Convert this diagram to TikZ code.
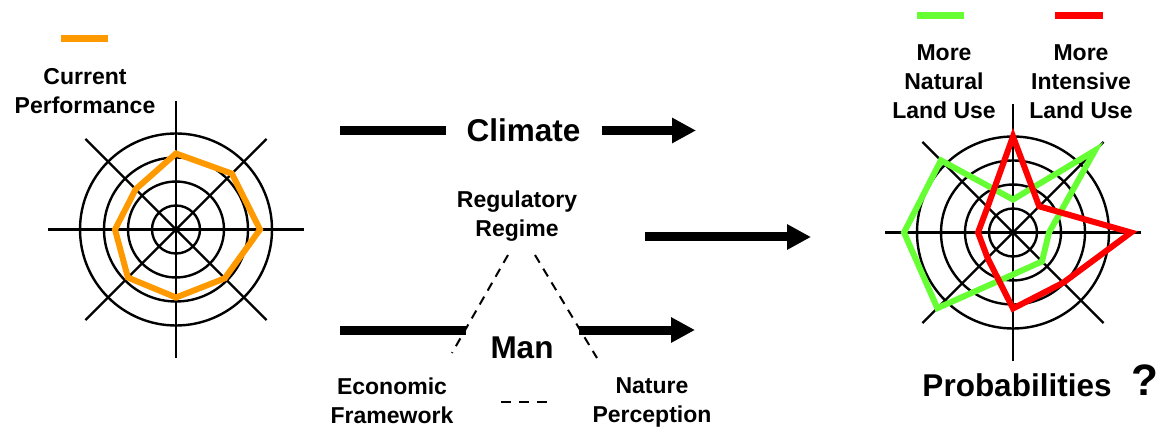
\documentclass[tikz,border=0pt]{standalone}
\usepackage{fontspec}
\setmainfont{Liberation Sans}
\usetikzlibrary{arrows.meta}

\definecolor{perfOrange}{RGB}{255,153,0}
\definecolor{natGreen}{RGB}{102,255,51}
\definecolor{intRed}{RGB}{255,0,0}

% spider web: four rings and eight spokes
\newcommand{\spiderweb}{%
  \foreach \rr in {24,48,72,96} \draw[webline] (0,0) circle (\rr pt);
  \foreach \aa in {0,45,...,315} \draw[webline] (0,0) -- (\aa:128pt);
}

\begin{document}
\begin{tikzpicture}[x=1pt, y=-1pt,
    webline/.style={line width=2.4pt},
    profile/.style={line width=6pt},
    keybar/.style={line width=7pt},
    thickbar/.style={line width=9pt},
    thickarrow/.style={thickbar, -{Triangle[length=24pt,width=24pt]}},
    linkdash/.style={line width=2pt, dash pattern=on 9pt off 7pt},
    smalltext/.style={font=\fontsize{23}{29}\selectfont\bfseries, align=center, inner sep=0pt},
    bigtext/.style={font=\fontsize{31.5}{36}\selectfont\bfseries, inner sep=0pt},
  ]
  \useasboundingbox (0,0) rectangle (1161,430);

  % Current performance (left web)
  \draw[keybar, perfOrange] (61,38.5) -- (108,38.5);
  \node[smalltext] (perf) at (85,91.5) {Current\\Performance};
  \begin{scope}[shift={(176,229.5)}]
    \spiderweb
    \draw[profile, perfOrange] (90:76pt) -- (45:79pt) -- (0:84pt) -- (-45:69pt)
      -- (-90:68pt) -- (-135:68pt) -- (180:61pt) -- (135:57pt) -- cycle;
  \end{scope}

  % Climate
  \node[bigtext, anchor=base] (climate) at (523.5,142) {Climate};
  \coordinate (climA) at (340,130.5);
  \coordinate (climB) at (446,130.5);
  \coordinate (climC) at (602,130.5);
  \coordinate (climD) at (696,130.5);
  \draw[thickbar] (climA) -- (climB);
  \draw[thickarrow] (climC) -- (climD);

  % Regulatory regime and its two feet
  \node[smalltext] (regime) at (517,216) {Regulatory\\Regime};
  \node[smalltext] (econ) at (392,401) {Economic\\Framework};
  \node[smalltext] (nature) at (652,402.5) {Nature\\Perception};
  \coordinate (regL) at (508,255);
  \coordinate (regR) at (535,255);
  \coordinate (econTop) at (452,353);
  \coordinate (natTop) at (597,358);
  \coordinate (baseL) at (501,402);
  \coordinate (baseR) at (548,402);
  \draw[linkdash] (regL) -- (econTop);
  \draw[linkdash] (regR) -- (natTop);
  \draw[linkdash, dash pattern=on 10pt off 8pt] (baseL) -- (baseR);

  % Man
  \node[bigtext, anchor=base] (man) at (522,358) {Man};
  \coordinate (manA) at (340,330);
  \coordinate (manB) at (466,330);
  \coordinate (manC) at (579,330);
  \coordinate (manD) at (695,330);
  \draw[thickbar] (manA) -- (manB);
  \draw[thickarrow] (manC) -- (manD);

  % towards the outcome
  \coordinate (outA) at (645,237);
  \coordinate (outB) at (811,237);
  \draw[thickarrow] (outA) -- (outB);

  % Probabilities (right web)
  \draw[keybar, natGreen] (917,15.5) -- (964,15.5);
  \draw[keybar, intRed] (1055,15.5) -- (1103,15.5);
  \node[smalltext] (natural) at (944,82) {More\\Natural\\Land Use};
  \node[smalltext] (intensive) at (1081,82) {More\\Intensive\\Land Use};
  \begin{scope}[shift={(1013,232.5)}]
    \spiderweb
    \draw[profile, natGreen] (90:33pt) -- (45:116pt) -- (0:36pt) -- (-45:41pt)
      -- (-90:42pt) -- (-135:107pt) -- (180:109pt) -- (135:102pt) -- cycle;
    \draw[profile, intRed] (90:96pt) -- (45:37pt) -- (0:118pt) -- (-45:71pt)
      -- (-90:76pt) -- (-135:36pt) -- (180:35pt) -- (135:36pt) -- cycle;
  \end{scope}
  \node[bigtext, anchor=base] (prob) at (1017,396) {Probabilities};
  \node[bigtext, font=\fontsize{44}{48}\selectfont\bfseries, anchor=base] (question) at (1145,395) {?};

\end{tikzpicture}
\end{document}
